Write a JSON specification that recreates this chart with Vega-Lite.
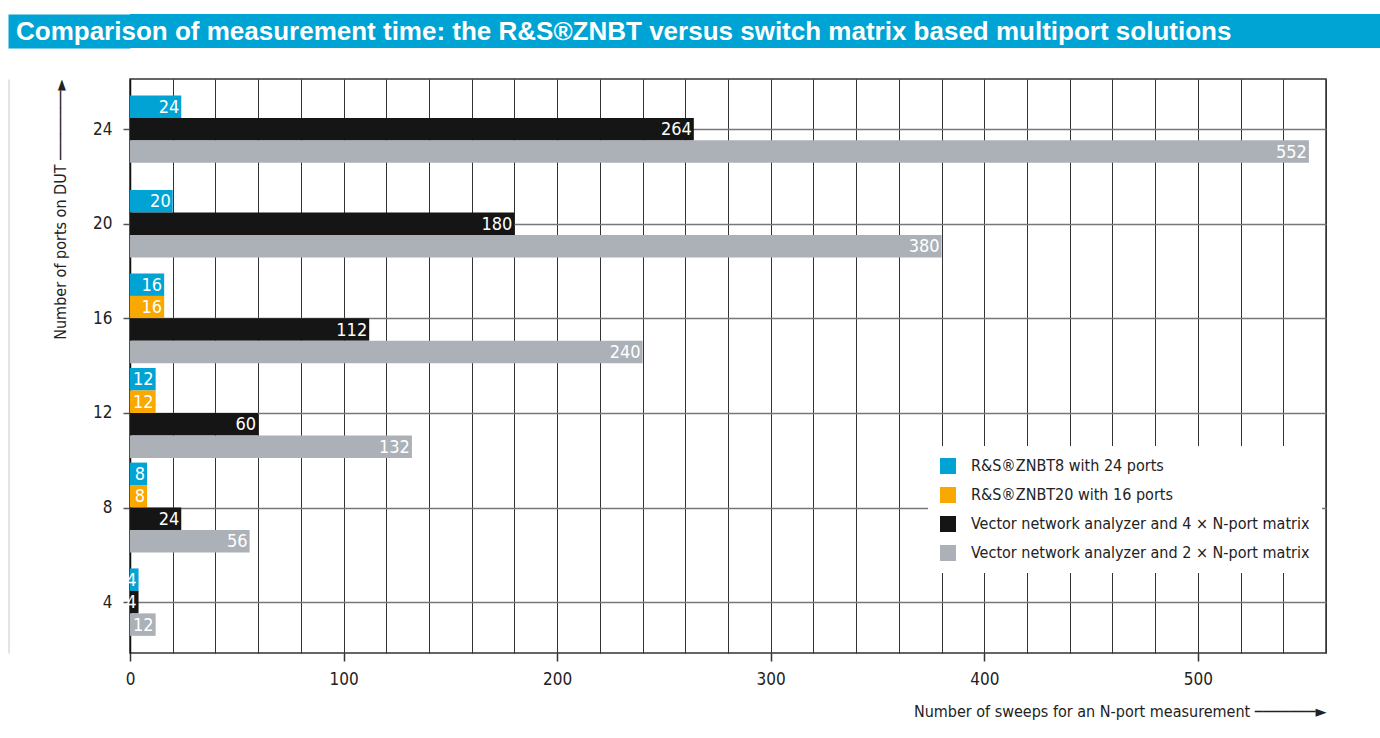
{
  "$schema": "https://vega.github.io/schema/vega-lite/v6.json",
  "padding": {"left": 7, "top": 14, "right": 0, "bottom": 0},
  "background": "white",
  "spacing": 30,
  "config": {
    "font": "DejaVu Sans Condensed, Roboto, sans-serif",
    "axis": {"labelFont": "DejaVu Sans Condensed, Roboto, sans-serif", "titleFont": "DejaVu Sans Condensed, Roboto, sans-serif", "labelColor": "#222", "titleColor": "#222", "labelFontSize": 17, "titleFontSize": 16, "titleFontWeight": "normal"},
    "legend": {"labelFont": "DejaVu Sans Condensed, Roboto, sans-serif"}
  },
  "vconcat": [
    {
      "width": 1251,
      "height": 34,
      "view": {"fill": "#00a4d4", "stroke": null},
      "title": {
        "text": "Comparison of measurement time: the R&S®ZNBT versus switch matrix based multiport solutions",
        "orient": "top", "anchor": "start", "frame": "group", "offset": -52, "baseline": "alphabetic",
        "dx": -114, "color": "white", "fontSize": 26, "fontWeight": "bold", "font": "Liberation Sans, Arial, sans-serif"
      },
      "data": {"values": [{"t": ""}]},
      "mark": {"type": "text", "opacity": 0},
      "encoding": {
        "text": {"field": "t"},
        "y": {"field": "t", "type": "nominal", "axis": {"orient": "left", "offset": 61, "domainColor": "#00a4d4", "domainWidth": 122, "domainCap": "butt", "labels": false, "ticks": false, "grid": false, "title": null}}
      }
    },
    {
      "width": 1196,
      "height": 574,
      "view": {"stroke": "#333", "strokeWidth": 1.5},
      "data": {
        "values": [
          {"ports": 24, "series": "R&S®ZNBT8 with 24 ports", "sweeps": 24},
          {"ports": 24, "series": "Vector network analyzer and 4 × N-port matrix", "sweeps": 264},
          {"ports": 24, "series": "Vector network analyzer and 2 × N-port matrix", "sweeps": 552},
          {"ports": 20, "series": "R&S®ZNBT8 with 24 ports", "sweeps": 20},
          {"ports": 20, "series": "Vector network analyzer and 4 × N-port matrix", "sweeps": 180},
          {"ports": 20, "series": "Vector network analyzer and 2 × N-port matrix", "sweeps": 380},
          {"ports": 16, "series": "R&S®ZNBT8 with 24 ports", "sweeps": 16},
          {"ports": 16, "series": "R&S®ZNBT20 with 16 ports", "sweeps": 16},
          {"ports": 16, "series": "Vector network analyzer and 4 × N-port matrix", "sweeps": 112},
          {"ports": 16, "series": "Vector network analyzer and 2 × N-port matrix", "sweeps": 240},
          {"ports": 12, "series": "R&S®ZNBT8 with 24 ports", "sweeps": 12},
          {"ports": 12, "series": "R&S®ZNBT20 with 16 ports", "sweeps": 12},
          {"ports": 12, "series": "Vector network analyzer and 4 × N-port matrix", "sweeps": 60},
          {"ports": 12, "series": "Vector network analyzer and 2 × N-port matrix", "sweeps": 132},
          {"ports": 8, "series": "R&S®ZNBT8 with 24 ports", "sweeps": 8},
          {"ports": 8, "series": "R&S®ZNBT20 with 16 ports", "sweeps": 8},
          {"ports": 8, "series": "Vector network analyzer and 4 × N-port matrix", "sweeps": 24},
          {"ports": 8, "series": "Vector network analyzer and 2 × N-port matrix", "sweeps": 56},
          {"ports": 4, "series": "R&S®ZNBT8 with 24 ports", "sweeps": 4},
          {"ports": 4, "series": "Vector network analyzer and 4 × N-port matrix", "sweeps": 4},
          {"ports": 4, "series": "Vector network analyzer and 2 × N-port matrix", "sweeps": 12}
        ]
      },
      "transform": [
        {"window": [{"op": "row_number", "as": "k"}], "groupby": ["ports"]},
        {"joinaggregate": [{"op": "count", "as": "n"}], "groupby": ["ports"]},
        {"calculate": "datum.ports + ((datum.n + 1) / 2 - datum.k) * 0.95", "as": "pos"}
      ],
      "resolve": {"axis": {"y": "independent"}},
      "layer": [
        {
          "mark": {"type": "bar", "orient": "horizontal", "size": 22.5},
          "encoding": {
            "x": {
              "field": "sweeps", "type": "quantitative",
              "scale": {"domain": [0, 560], "nice": false},
              "axis": {
                "values": [0, 20, 40, 60, 80, 100, 120, 140, 160, 180, 200, 220, 240, 260, 280, 300, 320, 340, 360, 380, 400, 420, 440, 460, 480, 500, 520, 540, 560],
                "labelExpr": "datum.value % 100 === 0 ? datum.label : ''",
                "labelOverlap": false, "labelFlush": false,
                "tickOpacity": {"condition": {"test": "datum.value % 100 === 0", "value": 1}, "value": 0},
                "grid": true, "gridColor": "#333", "gridWidth": 1,
                "domain": false, "tickSize": 8, "tickColor": "#333", "tickWidth": 1.5,
                "labelPadding": 10,
                "title": "Number of sweeps for an N-port measurement  ───────►",
                "titleAnchor": "end", "titlePadding": 16
              }
            },
            "y": {
              "field": "pos", "type": "quantitative",
              "scale": {"domain": [1.85, 26.12], "nice": false, "zero": false, "padding": 0},
              "axis": {
                "values": [4, 8, 12, 16, 20, 24],
                "grid": true, "gridColor": "#777", "gridWidth": 1.5,
                "tickSize": 7, "tickColor": "#555", "tickWidth": 1.5,
                "domainColor": "#111", "domainWidth": 1.5,
                "labelPadding": 11,
                "title": "Number of ports on DUT  ────────►",
                "titleAnchor": "end", "titlePadding": 24
              }
            },
            "color": {
              "field": "series", "type": "nominal",
              "scale": {
                "domain": ["R&S®ZNBT8 with 24 ports", "R&S®ZNBT20 with 16 ports", "Vector network analyzer and 4 × N-port matrix", "Vector network analyzer and 2 × N-port matrix"],
                "range": ["#00a3d3", "#f9a800", "#151515", "#abb1b7"]
              },
              "legend": {
                "orient": "none", "legendX": 798, "legendY": 432,
                "title": null, "fillColor": "white", "padding": 12,
                "symbolType": "square", "symbolSize": 256, "symbolStrokeWidth": 0,
                "labelFontSize": 16, "labelColor": "#222", "labelOffset": 15,
                "rowPadding": 13, "labelLimit": 500
              }
            }
          }
        },
        {
          "mark": {"type": "text", "align": "right", "baseline": "middle", "dx": -2, "dy": 1, "color": "white", "fontSize": 18, "font": "DejaVu Sans Condensed, Roboto, sans-serif"},
          "encoding": {
            "x": {"field": "sweeps", "type": "quantitative"},
            "y": {
              "field": "pos", "type": "quantitative",
              "axis": {"orient": "left", "offset": 121.5, "labels": false, "ticks": false, "grid": false, "title": null, "domainColor": "#d5dde0", "domainWidth": 1.5}
            },
            "text": {"field": "sweeps", "type": "quantitative", "format": "d"}
          }
        }
      ]
    }
  ]
}
